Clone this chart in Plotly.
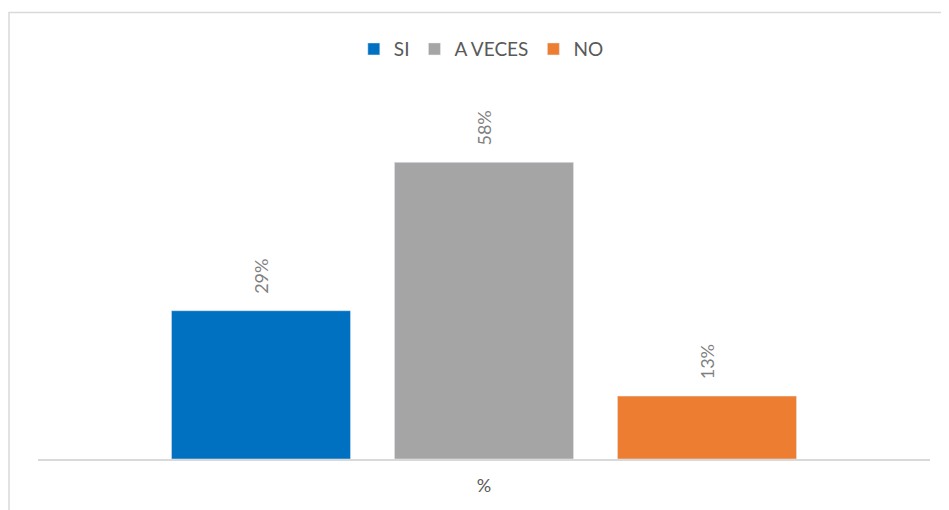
import plotly.graph_objects as go

categories = ["%"]
series_names = ["SI", "A VECES", "NO"]
series_values = [[0.29], [0.58], [0.123]]
series_labels = [["29%"], ["58%"], ["13%"]]
series_colors = ["#0070c0", "#a5a5a5", "#ed7d31"]

fig = go.Figure()
for name, vals, labels, col in zip(series_names, series_values, series_labels, series_colors):
    fig.add_trace(go.Bar(
        x=categories, y=vals, name=name, marker_color=col,
        # leading nbsp pushes the rotated label up off the bar
        text=["\u00a0\u00a0\u00a0" + t for t in labels],
        textposition="outside", textangle=-90,
        textfont=dict(color="#7f7f7f", size=18), cliponaxis=False,
    ))

# page body has an 8px margin, so the figure sits at (8, 8)
fig.update_layout(
    width=949, height=510,
    margin=dict(l=30, r=27, t=93, b=59),
    paper_bgcolor="white", plot_bgcolor="white",
    font=dict(family="Lato, 'Open Sans', sans-serif", color="#595959", size=18),
    barmode="group", bargap=0.25, bargroupgap=0.197,
    showlegend=True,
    legend=dict(orientation="h", x=0.497, xanchor="center", y=1.145, yanchor="middle",
                font=dict(size=19, color="#595959"), traceorder="normal"),
    xaxis=dict(showline=True, linecolor="#d9d9d9", linewidth=1.5, ticks="",
               ticklabelstandoff=10, tickfont=dict(size=18, color="#595959")),
    yaxis=dict(range=[0, 0.70], visible=False, showgrid=False),
    shapes=[dict(type="rect", xref="paper", yref="paper",
                 x0=-0.0325, x1=1.05, y0=-0.2, y1=1.247,
                 line=dict(color="#d9d9d9", width=1.5))],
)

fig.write_html("out.html")
